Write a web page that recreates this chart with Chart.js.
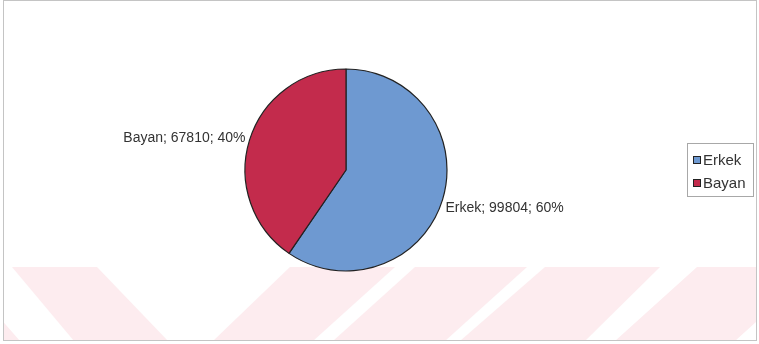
<!DOCTYPE html>
<html>
<head>
<meta charset="utf-8">
<script src="https://cdn.jsdelivr.net/npm/chart.js@4"></script>
<style>
  html, body { margin: 0; padding: 0; background: #ffffff; }
  #wrap { width: 759px; height: 344px; }
</style>
</head>
<body>
<div id="wrap"><canvas id="c" width="759" height="344"></canvas></div>
<script>
// Gender breakdown
const categories = ['Erkek', 'Bayan'];
const counts = [99804, 67810];
const sliceColors = ['#6e99d1', '#c32b4c'];

const FONT = "'Liberation Sans', Arial, sans-serif";

// light pink diagonal bands behind the plot, plus the outer frame
const backdrop = {
  id: 'backdrop',
  beforeDraw(chart) {
    const ctx = chart.ctx;
    ctx.save();
    ctx.fillStyle = '#ffffff';
    ctx.fillRect(0, 0, chart.width, chart.height);
    const top = 267, bot = 341;
    ctx.beginPath();
    ctx.rect(4, top, 752, bot - top);
    ctx.clip();
    ctx.fillStyle = '#fdecef';
    // [top-left x, top-right x, bottom-right x, bottom-left x]
    const bands = [
      [-130, -45, 20, -60],
      [12, 97, 168, 74],
      [290, 395, 313, 213],
      [415, 527, 445, 333],
      [545, 660, 585, 460],
      [697, 817, 735, 615],
      [838, 940, 856, 756]
    ];
    bands.forEach(b => {
      ctx.beginPath();
      ctx.moveTo(b[0], top);
      ctx.lineTo(b[1], top);
      ctx.lineTo(b[2], bot);
      ctx.lineTo(b[3], bot);
      ctx.closePath();
      ctx.fill();
    });
    ctx.restore();
    ctx.save();
    ctx.strokeStyle = '#c4c4c4';
    ctx.lineWidth = 1;
    ctx.strokeRect(3.5, 0.5, 753, 340);
    ctx.restore();
  }
};

// "name; value; percent" labels just outside each slice
const sliceLabels = {
  id: 'sliceLabels',
  afterDatasetsDraw(chart) {
    const ctx = chart.ctx;
    const meta = chart.getDatasetMeta(0);
    const data = chart.data.datasets[0].data;
    const total = data.reduce((a, b) => a + b, 0);
    ctx.save();
    ctx.font = '14px ' + FONT;
    ctx.fillStyle = '#333333';
    meta.data.forEach((arc, i) => {
      const p = arc.getProps(['x', 'y', 'startAngle', 'endAngle', 'outerRadius'], true);
      const mid = (p.startAngle + p.endAngle) / 2;
      const dx = Math.cos(mid), dy = Math.sin(mid);
      const ax = p.x + dx * p.outerRadius;
      const ay = p.y + dy * p.outerRadius;
      const pct = Math.round(data[i] / total * 100);
      const text = chart.data.labels[i] + '; ' + data[i] + '; ' + pct + '%';
      ctx.textAlign = dx >= 0 ? 'left' : 'right';
      const tx = ax + (dx >= 0 ? 3 : -4);
      if (dy < 0) {
        ctx.textBaseline = 'alphabetic';
        ctx.fillText(text, tx, ay + 2);
      } else {
        ctx.textBaseline = 'top';
        ctx.fillText(text, tx, ay + 1);
      }
    });
    ctx.restore();
  }
};

// boxed legend on the right
const boxLegend = {
  id: 'boxLegend',
  afterDraw(chart) {
    const ctx = chart.ctx;
    const ds = chart.data.datasets[0];
    const bx = 687, by = 143, bw = 66, bh = 53;
    ctx.save();
    ctx.strokeStyle = '#a8a8a8';
    ctx.lineWidth = 1;
    ctx.strokeRect(bx + 0.5, by + 0.5, bw, bh);
    ctx.font = '15px ' + FONT;
    ctx.textAlign = 'left';
    ctx.textBaseline = 'middle';
    chart.data.labels.forEach((lab, i) => {
      const cy = 160 + i * 23;
      ctx.fillStyle = ds.backgroundColor[i];
      ctx.fillRect(693, cy - 4, 8, 8);
      ctx.strokeStyle = '#222222';
      ctx.strokeRect(693.5, cy - 3.5, 7, 7);
      ctx.fillStyle = '#333333';
      ctx.fillText(lab, 703, cy + 1);
    });
    ctx.restore();
  }
};

new Chart(document.getElementById('c'), {
  type: 'pie',
  data: {
    labels: categories,
    datasets: [{
      data: counts,
      backgroundColor: sliceColors,
      borderColor: '#222222',
      borderWidth: 1.2
    }]
  },
  options: {
    responsive: false,
    animation: false,
    devicePixelRatio: 1,
    radius: 101,
    layout: { padding: { left: 246, right: 313, top: 70, bottom: 74 } },
    plugins: {
      legend: { display: false },
      tooltip: { enabled: false },
      title: { display: false }
    }
  },
  plugins: [backdrop, sliceLabels, boxLegend]
});
</script>
</body>
</html>
